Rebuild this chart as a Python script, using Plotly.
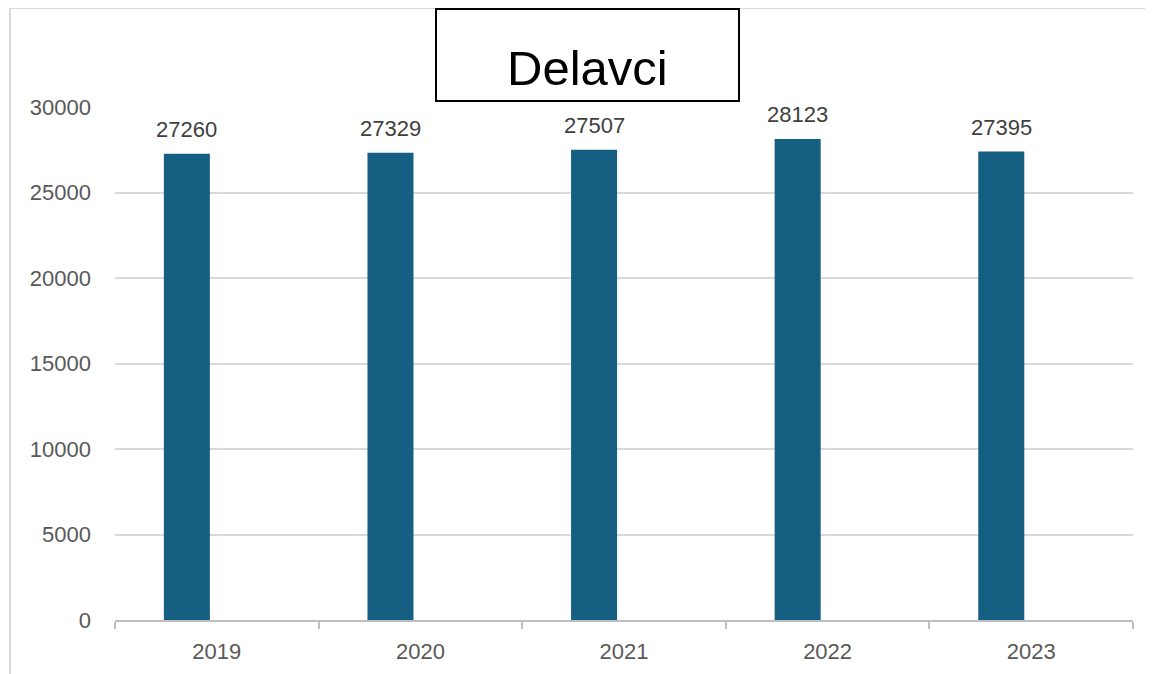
import plotly.graph_objects as go

years = ["2019", "2020", "2021", "2022", "2023"]
workers = [27260, 27329, 27507, 28123, 27395]
y_ticks = [0, 5000, 10000, 15000, 20000, 25000, 30000]
title_text = "Delavci"

# page has an 8px body margin; compensate so the figure lands where the reference is
OFF = 8
W, H = 1153 - OFF, 674 - OFF
L, R, T, B = 115 - OFF, 20, 107 - OFF, 54
pw, ph = W - L - R, H - T - B

def px_x(x):
    return (x - OFF - L) / pw

def px_y(y):
    return (H - B - (y - OFF)) / ph

BAR_OFFSET = -0.26
BAR_WIDTH = 0.226
BAR_COLOR = "#156082"
FONT = "Liberation Sans, Arial, sans-serif"

fig = go.Figure()
fig.add_trace(go.Bar(
    x=years, y=workers,
    offset=BAR_OFFSET, width=BAR_WIDTH,
    marker=dict(color=BAR_COLOR, line=dict(width=0)),
    hoverinfo="x+y",
))

for i, v in enumerate(workers):
    fig.add_annotation(
        x=i + BAR_OFFSET + BAR_WIDTH / 2, y=v, xref="x", yref="y",
        text=str(v), showarrow=False, yanchor="bottom", yshift=10,
        font=dict(family=FONT, size=22, color="#404040"),
    )

# title box
fig.add_shape(type="rect", xref="paper", yref="paper",
              x0=px_x(436), x1=px_x(739), y0=px_y(101), y1=px_y(9),
              line=dict(color="black", width=2), fillcolor="white", layer="above")
fig.add_annotation(x=px_x(587.5), y=px_y(68), xref="paper", yref="paper",
                   text=title_text, showarrow=False, xanchor="center", yanchor="middle",
                   font=dict(family=FONT, size=49, color="black"))

# outer frame lines
fig.add_shape(type="line", xref="paper", yref="paper",
              x0=px_x(10), x1=px_x(1153), y0=px_y(8), y1=px_y(8),
              line=dict(color="#d9d9d9", width=2), layer="below")
fig.add_shape(type="line", xref="paper", yref="paper",
              x0=px_x(10), x1=px_x(10), y0=px_y(8), y1=px_y(674),
              line=dict(color="#d9d9d9", width=2), layer="below")

fig.update_layout(
    width=W, height=H,
    margin=dict(l=L, r=R, t=T, b=B, autoexpand=False),
    paper_bgcolor="white", plot_bgcolor="white",
    showlegend=False,
    font=dict(family=FONT, size=22, color="#595959"),
)
fig.update_xaxes(
    type="category", range=[-0.5, 4.5],
    showline=True, linecolor="#bfbfbf", linewidth=1.5,
    ticks="outside", tickson="boundaries", ticklen=7, tickcolor="#bfbfbf", tickwidth=1.5,
    ticklabelstandoff=11,
    showgrid=False,
    tickfont=dict(size=22, color="#595959"),
)
fig.update_yaxes(
    range=[0, 30000], tickvals=y_ticks, ticktext=[str(t) for t in y_ticks],
    showgrid=True, gridcolor="#d9d9d9", gridwidth=1.5,
    zeroline=False, showline=False, ticks="",
    ticklabelstandoff=23,
    tickfont=dict(size=22, color="#595959"),
)

fig.write_html("out.html")
